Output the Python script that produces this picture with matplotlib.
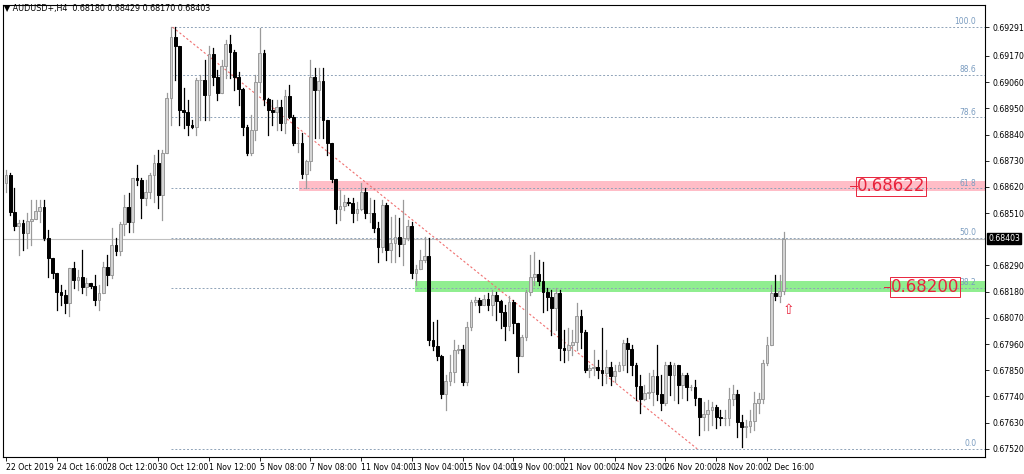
import matplotlib
matplotlib.use("Agg")
import matplotlib.pyplot as plt
from matplotlib.patches import Rectangle

# H4 candles, AUDUSD
closes = [0.68669, 0.68514, 0.68455, 0.68467, 0.68425, 0.68476, 0.68484, 0.68518, 0.68535, 0.68404,
          0.68320, 0.68257, 0.68178, 0.68165, 0.68131, 0.68278, 0.68228, 0.68241, 0.68199, 0.68215,
          0.68203, 0.68144, 0.68173, 0.68283, 0.68249, 0.68375, 0.68350, 0.68463, 0.68535, 0.68472,
          0.68656, 0.68648, 0.68572, 0.68598, 0.68669, 0.68719, 0.68585, 0.68761, 0.68992, 0.69249,
          0.69211, 0.68942, 0.68934, 0.68879, 0.68871, 0.69068, 0.69068, 0.69005, 0.69177, 0.69081,
          0.69013, 0.69127, 0.69219, 0.69186, 0.69081, 0.69030, 0.68871, 0.68761, 0.68858, 0.69060,
          0.69181, 0.68988, 0.68942, 0.68934, 0.68955, 0.68887, 0.69001, 0.68913, 0.68803, 0.68803,
          0.68673, 0.68728, 0.69081, 0.69026, 0.69064, 0.68900, 0.68803, 0.68652, 0.68526, 0.68539,
          0.68556, 0.68551, 0.68509, 0.68526, 0.68598, 0.68509, 0.68509, 0.68446, 0.68367, 0.68543,
          0.68354, 0.68383, 0.68409, 0.68379, 0.68404, 0.68455, 0.68257, 0.68274, 0.68312, 0.68329,
          0.67976, 0.67951, 0.67909, 0.67749, 0.67804, 0.67842, 0.67934, 0.67938, 0.67800, 0.68031,
          0.68136, 0.68144, 0.68123, 0.68148, 0.68123, 0.68165, 0.68140, 0.68094, 0.68035, 0.68136,
          0.68047, 0.67909, 0.67989, 0.68178, 0.68241, 0.68253, 0.68224, 0.68178, 0.68157, 0.68110,
          0.68173, 0.67942, 0.67934, 0.67955, 0.67968, 0.68077, 0.68010, 0.67850, 0.67858, 0.67863,
          0.67850, 0.67837, 0.67863, 0.67825, 0.67846, 0.67871, 0.67963, 0.67938, 0.67871, 0.67783,
          0.67728, 0.67753, 0.67758, 0.67825, 0.67749, 0.67711, 0.67871, 0.67829, 0.67871, 0.67787,
          0.67829, 0.67779, 0.67779, 0.67732, 0.67653, 0.67665, 0.67682, 0.67695, 0.67653, 0.67648,
          0.67648, 0.67728, 0.67749, 0.67632, 0.67611, 0.67615, 0.67636, 0.67711, 0.67728, 0.67879,
          0.67955, 0.68173, 0.68161, 0.68182, 0.68403]
highs = [0.68690, 0.68677, 0.68614, 0.68480, 0.68480, 0.68509, 0.68564, 0.68564, 0.68564, 0.68564,
         0.68438, 0.68320, 0.68257, 0.68207, 0.68186, 0.68278, 0.68304, 0.68270, 0.68354, 0.68236,
         0.68215, 0.68249, 0.68207, 0.68304, 0.68333, 0.68446, 0.68404, 0.68472, 0.68585, 0.68593,
         0.68656, 0.68711, 0.68656, 0.68648, 0.68677, 0.68753, 0.68774, 0.68774, 0.69013, 0.69291,
         0.69291, 0.69152, 0.69034, 0.68984, 0.68900, 0.69076, 0.69089, 0.69152, 0.69211, 0.69202,
         0.69110, 0.69152, 0.69236, 0.69257, 0.69194, 0.69102, 0.69034, 0.68879, 0.68921, 0.69089,
         0.69286, 0.69194, 0.68992, 0.68984, 0.68984, 0.68984, 0.69026, 0.69047, 0.68921, 0.68858,
         0.68845, 0.68732, 0.69152, 0.69118, 0.69118, 0.69118, 0.68900, 0.68690, 0.68640, 0.68606,
         0.68585, 0.68572, 0.68572, 0.68556, 0.68635, 0.68614, 0.68572, 0.68564, 0.68472, 0.68564,
         0.68551, 0.68493, 0.68501, 0.68488, 0.68564, 0.68480, 0.68472, 0.68291, 0.68354, 0.68409,
         0.68404, 0.68052, 0.68060, 0.67913, 0.67829, 0.67913, 0.67976, 0.67955, 0.67955, 0.68052,
         0.68144, 0.68157, 0.68152, 0.68165, 0.68173, 0.68186, 0.68178, 0.68144, 0.68123, 0.68161,
         0.68144, 0.68047, 0.67997, 0.68186, 0.68333, 0.68346, 0.68312, 0.68304, 0.68194, 0.68186,
         0.68194, 0.68186, 0.68018, 0.68026, 0.68018, 0.68131, 0.68102, 0.68018, 0.67871, 0.67934,
         0.67892, 0.68026, 0.67934, 0.67884, 0.67871, 0.67884, 0.67976, 0.67984, 0.67955, 0.67879,
         0.67829, 0.67787, 0.67837, 0.67850, 0.67955, 0.67829, 0.67884, 0.67884, 0.67879, 0.67871,
         0.67837, 0.67837, 0.67787, 0.67808, 0.67732, 0.67716, 0.67724, 0.67716, 0.67703, 0.67682,
         0.67682, 0.67774, 0.67787, 0.67766, 0.67661, 0.67640, 0.67682, 0.67758, 0.67753, 0.67892,
         0.67989, 0.68207, 0.68249, 0.68249, 0.68429]
lows = [0.68598, 0.68501, 0.68438, 0.68333, 0.68354, 0.68362, 0.68375, 0.68501, 0.68472, 0.68396,
        0.68241, 0.68236, 0.68102, 0.68123, 0.68089, 0.68077, 0.68194, 0.68186, 0.68173, 0.68165,
        0.68194, 0.68123, 0.68102, 0.68173, 0.68207, 0.68236, 0.68333, 0.68333, 0.68417, 0.68430,
        0.68430, 0.68627, 0.68488, 0.68543, 0.68572, 0.68556, 0.68530, 0.68480, 0.68766, 0.68879,
        0.69068, 0.68879, 0.68866, 0.68837, 0.68866, 0.68837, 0.68900, 0.68900, 0.68900, 0.69047,
        0.68984, 0.69076, 0.69076, 0.69076, 0.69026, 0.68963, 0.68837, 0.68753, 0.68753, 0.68816,
        0.69018, 0.68963, 0.68837, 0.68879, 0.68858, 0.68858, 0.68845, 0.68908, 0.68795, 0.68766,
        0.68656, 0.68614, 0.68690, 0.68824, 0.68824, 0.68824, 0.68753, 0.68640, 0.68467, 0.68480,
        0.68522, 0.68543, 0.68472, 0.68480, 0.68522, 0.68488, 0.68472, 0.68430, 0.68304, 0.68346,
        0.68312, 0.68304, 0.68304, 0.68329, 0.68291, 0.68396, 0.68236, 0.68207, 0.68278, 0.68304,
        0.67955, 0.67934, 0.67892, 0.67732, 0.67682, 0.67787, 0.67800, 0.67921, 0.67787, 0.67787,
        0.68018, 0.68123, 0.68094, 0.68123, 0.68102, 0.68081, 0.68060, 0.68026, 0.67976, 0.68018,
        0.68005, 0.67842, 0.67913, 0.67976, 0.68165, 0.68207, 0.68207, 0.68094, 0.68102, 0.67997,
        0.68018, 0.67892, 0.67884, 0.67892, 0.67913, 0.67934, 0.67942, 0.67842, 0.67820, 0.67829,
        0.67816, 0.67787, 0.67795, 0.67787, 0.67800, 0.67858, 0.67850, 0.67842, 0.67829, 0.67724,
        0.67669, 0.67724, 0.67732, 0.67703, 0.67724, 0.67682, 0.67703, 0.67745, 0.67724, 0.67711,
        0.67732, 0.67724, 0.67766, 0.67703, 0.67577, 0.67598, 0.67598, 0.67619, 0.67606, 0.67619,
        0.67619, 0.67619, 0.67703, 0.67569, 0.67527, 0.67569, 0.67590, 0.67598, 0.67669, 0.67711,
        0.67871, 0.67963, 0.68144, 0.68136, 0.68170]
first_open = 0.68635

price_ticks = [0.69291, 0.69170, 0.69060, 0.68950, 0.68840, 0.68730, 0.68620, 0.68510,
               0.68290, 0.68180, 0.68070, 0.67960, 0.67850, 0.67740, 0.67630, 0.67520]
date_ticks = [0, 12, 24, 36, 48, 60, 72, 84, 96, 108, 120, 132, 144, 156, 168, 180]
date_labels = ["22 Oct 2019", "24 Oct 16:00", "28 Oct 12:00", "30 Oct 12:00", "1 Nov 12:00",
               "5 Nov 08:00", "7 Nov 08:00", "11 Nov 04:00", "13 Nov 04:00", "15 Nov 04:00",
               "19 Nov 00:00", "21 Nov 00:00", "24 Nov 23:00", "26 Nov 20:00", "28 Nov 20:00",
               "2 Dec 16:00"]
fib_high = 0.69291
fib_low = 0.67520
fib_levels = [100.0, 88.6, 78.6, 61.8, 50.0, 38.2, 0.0]
resistance = 0.68622
support = 0.68200
last_price = 0.68403

fig = plt.figure(figsize=(10.24, 4.74), dpi=100)
ax = fig.add_axes([0.003, 0.036, 0.959, 0.953])
ymin, ymax = 0.67486, 0.69383
ax.set_ylim(ymin, ymax)
ax.set_xlim(-0.7, 231.6)

opens = [first_open] + closes[:-1]
for i, (o, h, l, c) in enumerate(zip(opens, highs, lows, closes)):
    bull = c >= o
    col = '#9a9a9a' if bull else 'black'
    face = '#d4d4d4' if bull else 'black'
    ax.plot([i, i], [min(l, o, c), max(h, o, c)], color=col, lw=0.9, zorder=3)
    hgt = max(abs(c - o), 0.000015)
    ax.add_patch(Rectangle((i - 0.33, min(o, c)), 0.66, hgt, facecolor=face,
                           edgecolor=col, lw=0.7, zorder=4))

# current price line
ax.axhline(last_price, color='#c0c0c0', lw=0.8, zorder=1)

# fibonacci levels
fib_start = 39
for lev in fib_levels:
    p = fib_low + (fib_high - fib_low) * lev / 100
    ax.plot([fib_start, 231.6], [p, p], color='#8fa3b8', lw=0.7, ls=(0, (2, 2)), zorder=2)
    ax.text(229.5, p + 0.00003, f"{lev:.1f}", color='#7a9cc0', fontsize=5.5,
            ha='right', va='bottom', zorder=5)

# trend line
ax.plot([39.4, 163.5], [fib_high, fib_low], color='#f07070', lw=0.8, ls=(0, (2, 2)), zorder=2)

# zones
ax.add_patch(Rectangle((69.3, resistance - 0.00021), 162.3, 0.00042, facecolor='#ffb6c1',
                       edgecolor='none', alpha=0.9, zorder=1.5))
ax.add_patch(Rectangle((96.7, support - 0.00021), 135, 0.00044, facecolor='#90ee90',
                       edgecolor='none', zorder=1.5))
ax.text(201.3, resistance, "0.68622", color='#e8243c', fontsize=12, va='center', ha='left',
        zorder=6, bbox=dict(boxstyle='square,pad=0.05', fc='none', ec='#e8243c', lw=0.7))
ax.text(209.3, support, "0.68200", color='#e8243c', fontsize=12, va='center', ha='left',
        zorder=6, bbox=dict(boxstyle='square,pad=0.05', fc='none', ec='#e8243c', lw=0.7))
ax.plot([199.6, 201.2], [resistance, resistance], color='#e8243c', lw=0.7)
ax.plot([207.6, 209.2], [support, support], color='#e8243c', lw=0.7)
ax.text(185, 0.68105, "\u21e7", color='#e8243c', fontsize=10, ha='center', va='center', zorder=6)

# axes styling
ax.set_xticks(date_ticks)
ax.set_xticklabels(date_labels, ha='left', fontsize=5.6)
ax.tick_params(axis='x', length=3, pad=1.5, width=0.6)
ax.yaxis.tick_right()
ax.set_yticks(price_ticks)
ax.set_yticklabels([f"{p:.5f}" for p in price_ticks], fontsize=5.6)
ax.tick_params(axis='y', length=3, pad=2, width=0.6)
for s in ax.spines.values():
    s.set_linewidth(0.8)
ax.text(1.003, (last_price - ymin) / (ymax - ymin), f"{last_price:.5f}", transform=ax.transAxes,
        color='white', fontsize=5.6, va='center', ha='left',
        bbox=dict(boxstyle='square,pad=0.15', fc='black', ec='black'))
fig.text(0.004, 0.982, "\u25bc AUDUSD+,H4  0.68180 0.68429 0.68170 0.68403", fontsize=5.8,
         va='center', ha='left')

fig.savefig("out.png", dpi=100)
